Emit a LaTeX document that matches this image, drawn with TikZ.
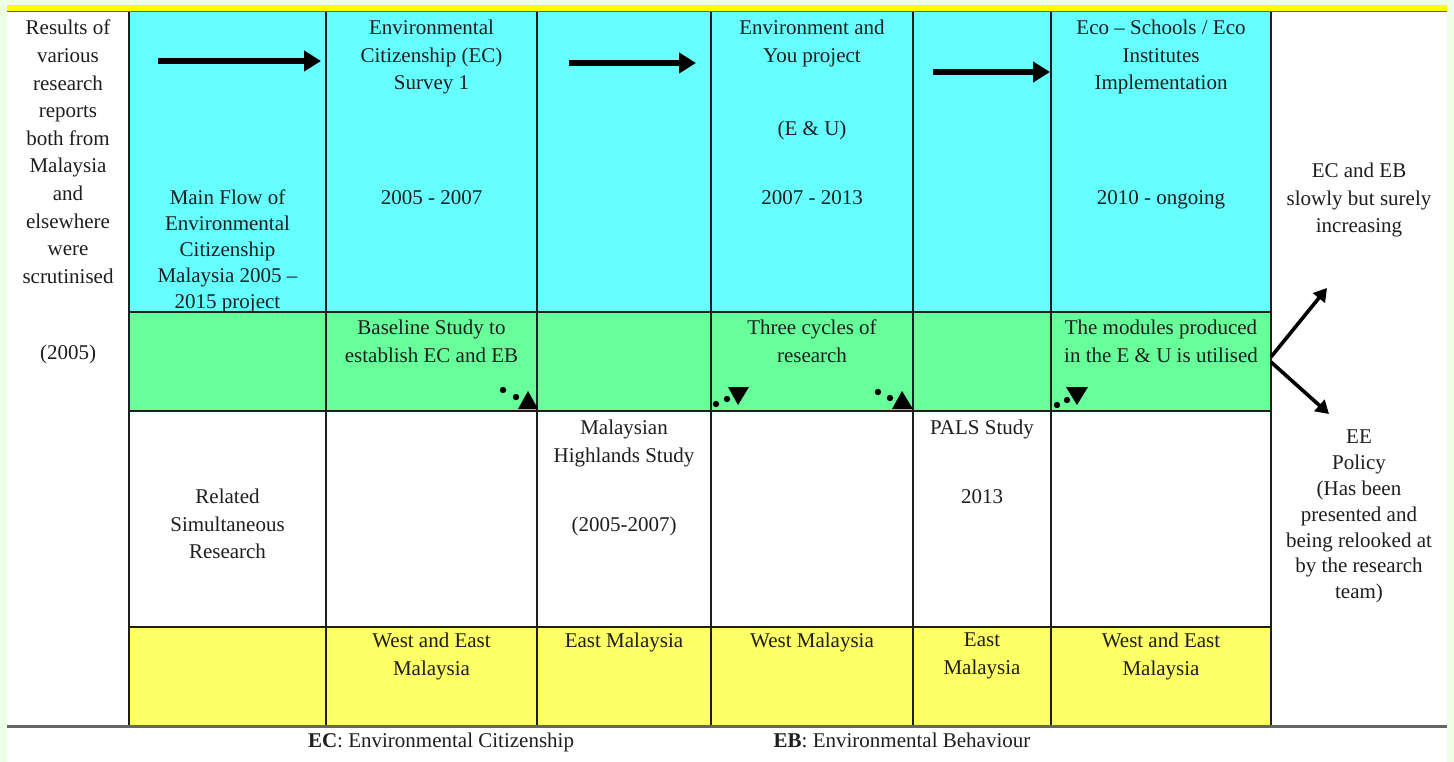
\documentclass[tikz,border=0pt]{standalone}
\usepackage{fontspec}
\setmainfont{Liberation Serif}
\usetikzlibrary{arrows.meta}
\definecolor{bgg}{HTML}{EEFFE8}
\definecolor{cyanc}{HTML}{66FFFF}
\definecolor{greenc}{HTML}{66FF99}
\definecolor{yellc}{HTML}{FFFF66}
\definecolor{topy}{HTML}{FFFF00}
\definecolor{ink}{HTML}{1E1E1E}
\tikzset{
  txt/.style={font=\fontsize{21}{27.6}\selectfont, align=center, inner sep=0pt, anchor=north, text=ink},
  tight/.style={font=\fontsize{21}{25.8}\selectfont},
  grid/.style={draw=ink, line width=1.2pt},
  bigarrow/.style={line width=5.4pt, -{Triangle[length=17pt,width=20pt]}, draw=black},
  sidearrow/.style={line width=3.6pt, -{Triangle[length=13pt,width=15pt]}, draw=black},
  dot/.style={fill=black},
}
\begin{document}
\begin{tikzpicture}[x=1pt,y=-1pt]
\useasboundingbox (0,0) rectangle (1454,762);
\fill[bgg] (0,0) rectangle (1454,762);
\fill[white] (7,6) rectangle (1447,762);
\fill[topy] (7,5) rectangle (1447,11);
\draw[ink!70, line width=1pt] (7,12) -- (1447,12);
% row fills
\fill[cyanc] (129,12) rectangle (1271,312);
\fill[greenc] (129,312) rectangle (1271,411);
\fill[yellc] (129,627) rectangle (1271,726);
% grid lines
\foreach \x in {129,326,537,711,913,1051,1271}{\draw[grid] (\x,12) -- (\x,726);}
\foreach \y in {312,411,627}{\draw[grid] (129,\y) -- (1271,\y);}
\draw[black!60, line width=2.5pt] (7,726.5) -- (1447,726.5);
% column 0
\node[txt] (res) at (68,20) {Results of\\various\\research\\reports\\both from\\Malaysia\\and\\elsewhere\\were\\scrutinised};
\node[txt] (y05) at (68,345) {(2005)};
% column 1
\node[txt,tight] (main) at (227.5,190) {Main Flow of\\Environmental\\Citizenship\\Malaysia 2005 –\\2015 project};
\node[txt] (rel) at (227.5,489) {Related\\Simultaneous\\Research};
% column 2
\node[txt] (ec1) at (431.5,20) {Environmental\\Citizenship (EC)\\Survey 1};
\node[txt] (d1) at (431.5,190) {2005 - 2007};
\node[txt] (base) at (431.5,320) {Baseline Study to\\establish EC and EB};
\node[txt] (we1) at (431.5,633) {West and East\\Malaysia};
% column 3
\node[txt] (mhs) at (624,420) {Malaysian\\Highlands Study};
\node[txt] (d3) at (624,517) {(2005-2007)};
\node[txt] (em1) at (624,633) {East Malaysia};
% column 4
\node[txt] (eyou) at (812,20) {Environment and\\You project};
\node[txt] (eu) at (812,121) {(E \& U)};
\node[txt] (d2) at (812,190) {2007 - 2013};
\node[txt] (three) at (812,320) {Three cycles of\\research};
\node[txt] (wm) at (812,633) {West Malaysia};
% column 5
\node[txt] (pals) at (982,420) {PALS Study};
\node[txt] (d5) at (982,489) {2013};
\node[txt] (em2) at (982,633) {East\\Malaysia};
% column 6
\node[txt] (eco) at (1161,20) {Eco – Schools / Eco\\Institutes\\Implementation};
\node[txt] (d6) at (1161,190) {2010 - ongoing};
\node[txt] (mods) at (1161,320) {The modules produced\\in the E \& U is utilised};
\node[txt] (we2) at (1161,633) {West and East\\Malaysia};
% column 7
\node[txt] (inc) at (1359,163) {EC and EB\\slowly but surely\\increasing};
\node[txt,tight] (pol) at (1359,430) {EE\\Policy\\(Has been\\presented and\\being relooked at\\by the research\\team)};
% footer
\node[txt] (fec) at (441,733) {\textbf{EC}: Environmental Citizenship};
\node[txt] (feb) at (902,733) {\textbf{EB}: Environmental Behaviour};
% main flow arrows
\coordinate (a1s) at (158,61); \coordinate (a1e) at (321,61);
\coordinate (a2s) at (569,63); \coordinate (a2e) at (696,63);
\coordinate (a3s) at (933,72); \coordinate (a3e) at (1050,72);
\draw[bigarrow] (a1s) -- (a1e);
\draw[bigarrow] (a2s) -- (a2e);
\draw[bigarrow] (a3s) -- (a3e);
% side arrows
\coordinate (fork1) at (1271,357); \coordinate (up) at (1327,288);
\coordinate (fork2) at (1271,362); \coordinate (dn) at (1329,414);
\draw[sidearrow] (fork1) -- (up);
\draw[sidearrow] (fork2) -- (dn);
% dotted arrows
\fill[dot] (503,390) circle (3.2pt); \fill[dot] (516,397) circle (3.2pt);
\fill[dot] (518,409) -- (538,409) -- (528,391) -- cycle;
\fill[dot] (716,404) circle (3.2pt); \fill[dot] (727,399) circle (3.2pt);
\fill[dot] (728,387) -- (749,387) -- (738,405) -- cycle;
\fill[dot] (878,392) circle (3.2pt); \fill[dot] (890,398) circle (3.2pt);
\fill[dot] (892,409) -- (913,409) -- (902,391) -- cycle;
\fill[dot] (1057,405) circle (3.2pt); \fill[dot] (1067,400) circle (3.2pt);
\fill[dot] (1066,387) -- (1088,387) -- (1077,405) -- cycle;
\end{tikzpicture}
\end{document}
